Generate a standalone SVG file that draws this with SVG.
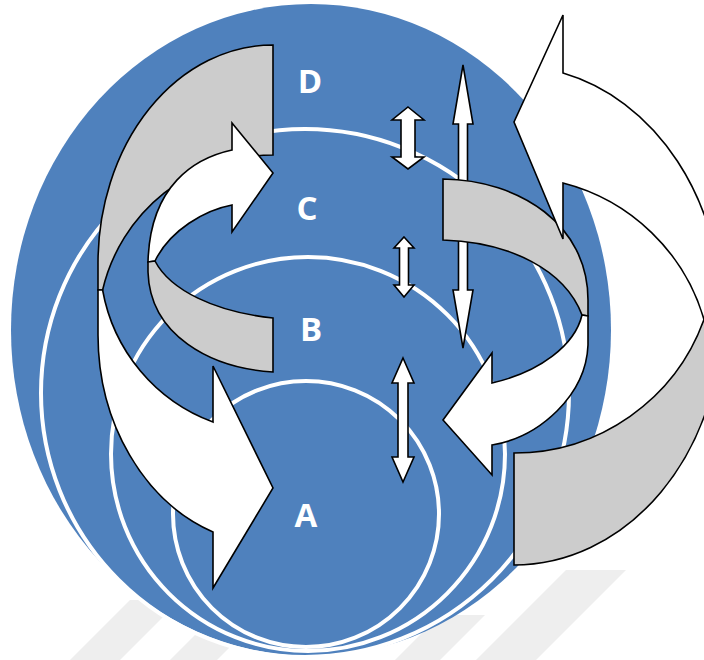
<svg xmlns="http://www.w3.org/2000/svg" width="704" height="660" viewBox="0 0 704 660">
<style>
.wm{fill:#eeeeee}
.ring{fill:none;stroke:#ffffff;stroke-width:4}
.w{fill:#ffffff;stroke:#000000;stroke-width:1.6;stroke-linejoin:miter}
.g{fill:#cccccc;stroke:#000000;stroke-width:1.6;stroke-linejoin:miter}
.lbl{fill:#ffffff;font-family:"Open Sans","Liberation Sans",sans-serif;font-weight:700;font-size:33px;text-anchor:middle}
</style>
<rect width="704" height="660" fill="#ffffff"/>
<g id="watermark">
<polygon class="wm" points="130,600 180,600 120,660 70,660"/>
<polygon class="wm" points="215,615 262,615 217,660 170,660"/>
<polygon class="wm" points="440,615 485,615 440,660 395,660"/>
<polygon class="wm" points="566,570 626,570 536,660 476,660"/>
</g>
<g id="sphere">
<ellipse cx="311" cy="330" rx="300" ry="326" fill="#4f81bd"/>
<circle class="ring" cx="305" cy="393" r="264"/>
<circle class="ring" cx="308" cy="454" r="197"/>
<circle class="ring" cx="306" cy="514" r="133"/>
</g>
<g id="connectors">
<polygon id="dbl1" class="w" points="408,107 424,120 415,120 415,157 424,157 408,169 392,157 401,157 401,120 392,120"/>
<polygon id="dbl2" class="w" points="404,237 414,248 408.5,248 408.5,285 414,285 404,297 394,285 399.5,285 399.5,248 394,248"/>
<polygon id="dbl3" class="w" points="463,65 473,124 467.5,124 467.5,290 473,290 463,348 453,290 458.5,290 458.5,124 453,124"/>
<polygon id="dbl4" class="w" points="403,358 414,383 408,383 408,457 414,457 403,482 392,457 398,457 398,383 392,383"/>
</g>
<g id="cycle-left-outer">
<path class="g" d="M273,45 A175,218 0 0 0 98,263 L98,290 L102.6,290 A175,175 0 0 1 273,155 Z"/>
<path class="w" d="M98,290 L98,335 A175,210 0 0 0 213,532 L213,588 L273,488 L213,366 L213,422 A173,173 0 0 1 102.6,290 Z"/>
</g>
<g id="cycle-left-inner">
<path class="w" d="M148,262 C150,185 195,158 232,150 L232,123 L273,173 L232,232 L232,205 C205,210 170,230 155,261 Z"/>
<path class="g" d="M155,261 C170,290 215,312 273,318 L273,372 C210,368 150,335 148,272 L148,262 Z"/>
</g>
<g id="cycle-right-inner">
<path class="g" d="M443,179 C520,180 588,225 588,300 L588,316 L582,315 C565,270 510,242 443,240 Z"/>
<path class="w" d="M582,315 L588,316 L588,345 C586,395 540,437 492,445 L492,475 L443,420 L492,353 L492,383 C540,372 575,345 582,315 Z"/>
</g>
<g id="cycle-right-outer">
<path class="w" d="M563,73 A208,249.5 0 0 1 722,315.5 L704,319.5 A198,198 0 0 0 563,183 L563,239 L514,122 L563,15 Z"/>
<path class="g" d="M704,319.5 A202,202 0 0 1 514,453 L514,565 A208,249.5 0 0 0 722,315.5 Z"/>
</g>
<g id="node-D"><text class="lbl" x="310" y="93">D</text></g>
<g id="node-C"><text class="lbl" x="307" y="220">C</text></g>
<g id="node-B"><text class="lbl" x="311" y="341">B</text></g>
<g id="node-A"><text class="lbl" x="306" y="527">A</text></g>
</svg>
